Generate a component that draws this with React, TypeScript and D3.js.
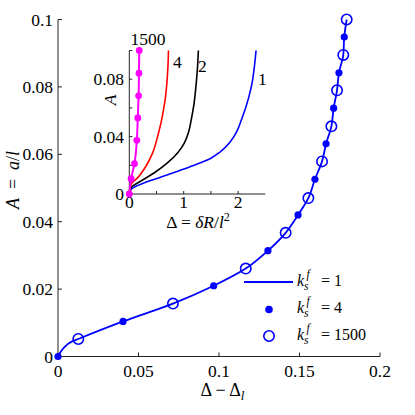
import React from "react";
import * as d3 from "d3";

// ---- Main plot data (Δ − Δ_l vs A) ----
const k1Delta = [0, 0.0033, 0.0085, 0.0126, 0.0404, 0.0714, 0.0967, 0.1166, 0.1304, 0.1414, 0.1491, 0.1555, 0.1596, 0.164, 0.1665, 0.1698, 0.1712, 0.1733, 0.1745, 0.1772, 0.1778, 0.1793];
const k1A = [0, 0.0024, 0.0044, 0.0052, 0.0104, 0.0157, 0.021, 0.0261, 0.0314, 0.0367, 0.042, 0.047, 0.0526, 0.0579, 0.0631, 0.0683, 0.0737, 0.079, 0.0842, 0.0895, 0.0948, 0.1];
const k4Delta = [0, 0.0404, 0.0967, 0.1304, 0.1491, 0.1596, 0.1665, 0.1712, 0.1745, 0.1778];
const k4A = [0, 0.0104, 0.021, 0.0314, 0.042, 0.0526, 0.0631, 0.0737, 0.0842, 0.0948];
const k1500Delta = [0.0126, 0.0714, 0.1166, 0.1414, 0.1555, 0.164, 0.1698, 0.1733, 0.1772, 0.1793];
const k1500A = [0.0052, 0.0157, 0.0261, 0.0367, 0.047, 0.0579, 0.0683, 0.079, 0.0895, 0.1];

const mainXTicks = [0, 0.05, 0.1, 0.15, 0.2];
const mainXTickLabels = ["0", "0.05", "0.1", "0.15", "0.2"];
const mainYTicks = [0, 0.02, 0.04, 0.06, 0.08, 0.1];
const mainYTickLabels = ["0", "0.02", "0.04", "0.06", "0.08", "0.1"];

// ---- Inset data (Δ = δR/l² vs A) ----
const inK1Delta = [0, 0.033, 0.279, 0.584, 0.89, 1.18, 1.485, 1.667, 1.85, 1.97, 2.06, 2.13, 2.2, 2.26, 2.3, 2.33];
const inK1A = [0, 0.0033, 0.0079, 0.0118, 0.0159, 0.0199, 0.0246, 0.0292, 0.0361, 0.0431, 0.0516, 0.059, 0.068, 0.078, 0.089, 0.1];
const inK2Delta = [0, 0.033, 0.217, 0.462, 0.706, 0.89, 1.013, 1.086, 1.14, 1.19, 1.23, 1.255, 1.27];
const inK2A = [0, 0.0044, 0.0091, 0.0148, 0.0218, 0.0288, 0.0357, 0.0427, 0.052, 0.063, 0.077, 0.089, 0.1];
const inK4Delta = [0, 0.033, 0.156, 0.308, 0.431, 0.523, 0.583, 0.625, 0.66, 0.69, 0.71, 0.72];
const inK4A = [0, 0.0068, 0.0114, 0.0195, 0.0288, 0.0404, 0.0497, 0.058, 0.066, 0.077, 0.0887, 0.1];
const inK1500Delta = [0, 0.033, 0.095, 0.138, 0.156, 0.171, 0.178, 0.183];
const inK1500A = [0, 0.0107, 0.0211, 0.0374, 0.053, 0.0684, 0.0842, 0.1];

const inXTicks = [0, 0.5, 1, 1.5, 2];
const inXLabelVals = [0, 1, 2];
const inXTickLabels = ["0", "1", "2"];
const inYTicks = [0, 0.02, 0.04, 0.06, 0.08, 0.1];
const inYLabelVals = [0, 0.04, 0.08];
const inYTickLabels = ["0", "0.04", "0.08"];

const FONT = "Liberation Serif";
const BLUE = "#0000ff";

const zip = (xs: number[], ys: number[]) => xs.map((x, i) => [x, ys[i]] as [number, number]);

export default function App() {
  const x = d3.scaleLinear().domain([0, 0.2]).range([58, 380]);
  const y = d3.scaleLinear().domain([0, 0.1]).range([356.5, 19.5]);
  const ix = d3.scaleLinear().domain([0, 2.5]).range([129.3, 265.3]);
  const iy = d3.scaleLinear().domain([0, 0.1]).range([194, 50.5]);

  const mainLine = d3.line<[number, number]>().x((d) => x(d[0])).y((d) => y(d[1])).curve(d3.curveMonotoneY);
  const inLine = d3.line<[number, number]>().x((d) => ix(d[0])).y((d) => iy(d[1])).curve(d3.curveMonotoneY);

  const axisColor = "#222";
  const tickLen = 4;
  const ts: React.CSSProperties = { fontFamily: FONT };

  return (
    <svg width={415} height={415} style={{ position: "absolute", left: 0, top: 0, background: "#fff", fontFamily: FONT }}>
      <rect x={0} y={0} width={415} height={415} fill="#fff" />
      {/* Main axes */}
      <line x1={x(0)} x2={x(0.2)} y1={y(0)} y2={y(0)} stroke={axisColor} strokeWidth={1} />
      <line x1={x(0)} x2={x(0)} y1={y(0)} y2={y(0.1)} stroke={axisColor} strokeWidth={1} />
      {mainXTicks.map((t, i) => (
        <g key={"mx" + i}>
          <line x1={x(t)} x2={x(t)} y1={y(0)} y2={y(0) - tickLen} stroke={axisColor} />
          <text style={ts} x={x(t)} y={377} textAnchor="middle" fontSize={17.5}>{mainXTickLabels[i]}</text>
        </g>
      ))}
      {mainYTicks.map((t, i) => (
        <g key={"my" + i}>
          <line x1={x(0)} x2={x(0) + tickLen} y1={y(t)} y2={y(t)} stroke={axisColor} />
          <text style={ts} x={53} y={y(t)} dy="0.35em" textAnchor="end" fontSize={17.5}>{mainYTickLabels[i]}</text>
        </g>
      ))}
      {/* Main axis labels */}
      <text style={ts} x={222.5} y={396} textAnchor="middle" fontSize={18}>
        Δ − Δ<tspan fontStyle="italic" fontSize={13} dy={4}>l</tspan>
      </text>
      <text style={ts} transform="translate(18.5,180) rotate(-90)" textAnchor="middle" fontSize={18}>
        <tspan fontStyle="italic">A</tspan>{"\u2002=\u2002"}<tspan fontStyle="italic">a</tspan>/<tspan fontStyle="italic">l</tspan>
      </text>

      {/* Main curve */}
      <path d={mainLine(zip(k1Delta, k1A)) || ""} fill="none" stroke={BLUE} strokeWidth={1.8} />
      {zip(k4Delta, k4A).map((d, i) => (
        <circle key={"f" + i} cx={x(d[0])} cy={y(d[1])} r={3.6} fill={BLUE} />
      ))}
      {zip(k1500Delta, k1500A).map((d, i) => (
        <circle key={"o" + i} cx={x(d[0])} cy={y(d[1])} r={5.2} fill="none" stroke={BLUE} strokeWidth={1.6} />
      ))}

      {/* Legend */}
      <g>
        <line x1={244} x2={293} y1={282} y2={282} stroke={BLUE} strokeWidth={1.8} />
        <circle cx={269} cy={309.5} r={3.8} fill={BLUE} />
        <circle cx={269} cy={336} r={5.2} fill="none" stroke={BLUE} strokeWidth={1.6} />
        {["1", "4", "1500"].map((v, i) => {
          const by = 286 + i * 27;
          return (
            <g key={"lg" + i}>
              <text style={ts} x={297} y={by} fontStyle="italic" fontSize={16}>k</text>
              <text style={ts} x={304} y={by + 4} fontStyle="italic" fontSize={11.5}>s</text>
              <text style={ts} x={306.5} y={by - 8} fontStyle="italic" fontSize={11.5}>f</text>
              <text style={ts} x={321} y={by} fontSize={16}>= {v}</text>
            </g>
          );
        })}
      </g>

      {/* Inset axes */}
      <line x1={ix(0)} x2={ix(2.5)} y1={iy(0)} y2={iy(0)} stroke={axisColor} strokeWidth={1} />
      <line x1={ix(0)} x2={ix(0)} y1={iy(0)} y2={iy(0.1)} stroke={axisColor} strokeWidth={1} />
      {inXTicks.map((t, i) => (
        <line key={"ixt" + i} x1={ix(t)} x2={ix(t)} y1={iy(0)} y2={iy(0) - 3} stroke={axisColor} />
      ))}
      {inXLabelVals.map((t, i) => (
        <text style={ts} key={"ixl" + i} x={ix(t)} y={208} textAnchor="middle" fontSize={17.5}>{inXTickLabels[i]}</text>
      ))}
      {inYTicks.map((t, i) => (
        <line key={"iyt" + i} x1={ix(0)} x2={ix(0) + 3} y1={iy(t)} y2={iy(t)} stroke={axisColor} />
      ))}
      {inYLabelVals.map((t, i) => (
        <text style={ts} key={"iyl" + i} x={124} y={iy(t)} dy="0.35em" textAnchor="end" fontSize={17.5}>{inYTickLabels[i]}</text>
      ))}
      <text style={ts} x={198} y={228} textAnchor="middle" fontSize={17.5}>
        Δ = <tspan fontStyle="italic">δR</tspan>/<tspan fontStyle="italic">l</tspan><tspan fontSize={12} dy={-7}>2</tspan>
      </text>
      <text style={ts} transform="translate(115.5,100) rotate(-90)" textAnchor="middle" fontSize={17.5} fontStyle="italic">A</text>

      {/* Inset curves */}
      <path d={inLine(zip(inK1Delta, inK1A)) || ""} fill="none" stroke={BLUE} strokeWidth={1.6} />
      <path d={inLine(zip(inK2Delta, inK2A)) || ""} fill="none" stroke="#000" strokeWidth={1.6} />
      <path d={inLine(zip(inK4Delta, inK4A)) || ""} fill="none" stroke="#ff0000" strokeWidth={1.6} />
      <path d={inLine(zip(inK1500Delta, inK1500A)) || ""} fill="none" stroke="#ff00ff" strokeWidth={2} />
      {zip(inK1500Delta, inK1500A).map((d, i) => (
        <circle key={"m" + i} cx={ix(d[0])} cy={iy(d[1])} r={3.4} fill="#ff00ff" />
      ))}
      <g>
        <text style={ts} x={148} y={45} textAnchor="middle" fontSize={17.5}>1500</text>
        <text style={ts} x={173} y={68} fontSize={17.5}>4</text>
        <text style={ts} x={198} y={71.5} fontSize={17.5}>2</text>
        <text style={ts} x={258} y={85} fontSize={17.5}>1</text>
      </g>
    </svg>
  );
}
